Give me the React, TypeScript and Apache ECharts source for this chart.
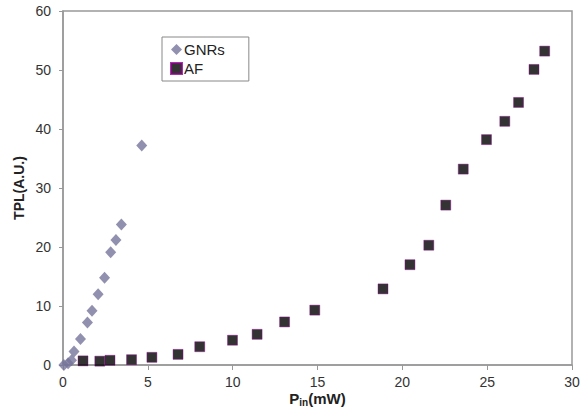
import React, { useEffect, useRef } from "react";
import * as echarts from "echarts";

const xTicks = [0, 5, 10, 15, 20, 25, 30];
const yTicks = [0, 10, 20, 30, 40, 50, 60];

const gnrX = [0.05, 0.3, 0.5, 0.65, 1.03, 1.44, 1.71, 2.07, 2.45, 2.81, 3.12, 3.44, 4.64];
const gnrY = [0, 0.3, 0.8, 2.3, 4.4, 7.2, 9.2, 12.0, 14.8, 19.1, 21.2, 23.8, 37.2];

const afX = [1.18, 2.17, 2.77, 4.04, 5.24, 6.78, 8.06, 9.99, 11.44, 13.06, 14.84, 18.86, 20.45, 21.56, 22.56, 23.59, 24.96, 26.04, 26.85, 27.76, 28.39];
const afY = [0.7, 0.65, 0.8, 0.9, 1.3, 1.8, 3.1, 4.2, 5.2, 7.3, 9.3, 12.9, 17.0, 20.3, 27.1, 33.2, 38.2, 41.3, 44.5, 50.1, 53.2];

export default function App() {
  const ref = useRef<HTMLDivElement>(null);
  useEffect(() => {
    if (!ref.current) return;
    const chart = echarts.init(ref.current, undefined, { renderer: "svg" });
    const font = "'Liberation Sans', Arial, sans-serif";
    chart.setOption({
      animation: false,
      backgroundColor: "#fff",
      textStyle: { fontFamily: font },
      grid: {
        left: 63,
        top: 11,
        width: 509,
        height: 354,
        outerBoundsMode: "none",
        containLabel: false,
        show: true,
        borderColor: "#999",
        borderWidth: 1.5,
      },
      legend: {
        orient: "vertical",
        left: 162,
        top: 37,
        width: 90,
        itemGap: 4,
        itemWidth: 11,
        itemHeight: 11,
        padding: [5, 24, 5, 8],
        borderColor: "#888",
        borderWidth: 1,
        textStyle: { fontSize: 15, color: "#222", fontFamily: font, padding: [0, 0, 0, -3] },
        data: [
          { name: "GNRs", icon: "diamond" },
          { name: "AF", icon: "rect" },
        ],
      },
      xAxis: {
        type: "value",
        min: 0,
        max: 30,
        interval: 5,
        name: "{a|P}{b|in}{a|(mW)}",
        nameLocation: "middle",
        nameGap: 24,
        nameMoveOverlap: false,
        nameTextStyle: {
          rich: {
            a: { fontSize: 15, fontWeight: "bold", color: "#222", fontFamily: font },
            b: { fontSize: 10, fontWeight: "bold", color: "#222", fontFamily: font, verticalAlign: "bottom", padding: [8, 0, 0, 0] },
          },
        },
        axisLine: { show: true, lineStyle: { color: "#999", width: 1.5 } },
        axisTick: { show: true, inside: false, length: 5, lineStyle: { color: "#999" } },
        axisLabel: { fontSize: 14, color: "#333", margin: 10, fontFamily: font },
        splitLine: { show: false },
      },
      yAxis: {
        type: "value",
        min: 0,
        max: 60,
        interval: 10,
        name: "TPL(A.U.)",
        nameLocation: "middle",
        nameGap: 37,
        nameMoveOverlap: false,
        nameTextStyle: { fontSize: 14, fontWeight: "bold", color: "#222", fontFamily: font },
        axisLine: { show: true, lineStyle: { color: "#999", width: 1.5 } },
        axisTick: { show: true, inside: false, length: 4, lineStyle: { color: "#999" } },
        axisLabel: { fontSize: 14, color: "#333", margin: 12, fontFamily: font },
        splitLine: { show: false },
      },
      series: [
        {
          name: "GNRs",
          type: "scatter",
          symbol: "diamond",
          symbolSize: [11, 12],
          itemStyle: { color: "#76749a" },
          data: gnrX.map((x, i) => [x, gnrY[i]]),
        },
        {
          name: "AF",
          type: "scatter",
          symbol: "rect",
          symbolSize: 10,
          itemStyle: { color: "#000000", borderColor: "#900090", borderWidth: 0.5 },
          data: afX.map((x, i) => [x, afY[i]]),
        },
      ],
    });
    return () => chart.dispose();
  }, []);
  return <div ref={ref} style={{ width: 582, height: 410, position: "absolute", left: 0, top: 0 }} />;
}
